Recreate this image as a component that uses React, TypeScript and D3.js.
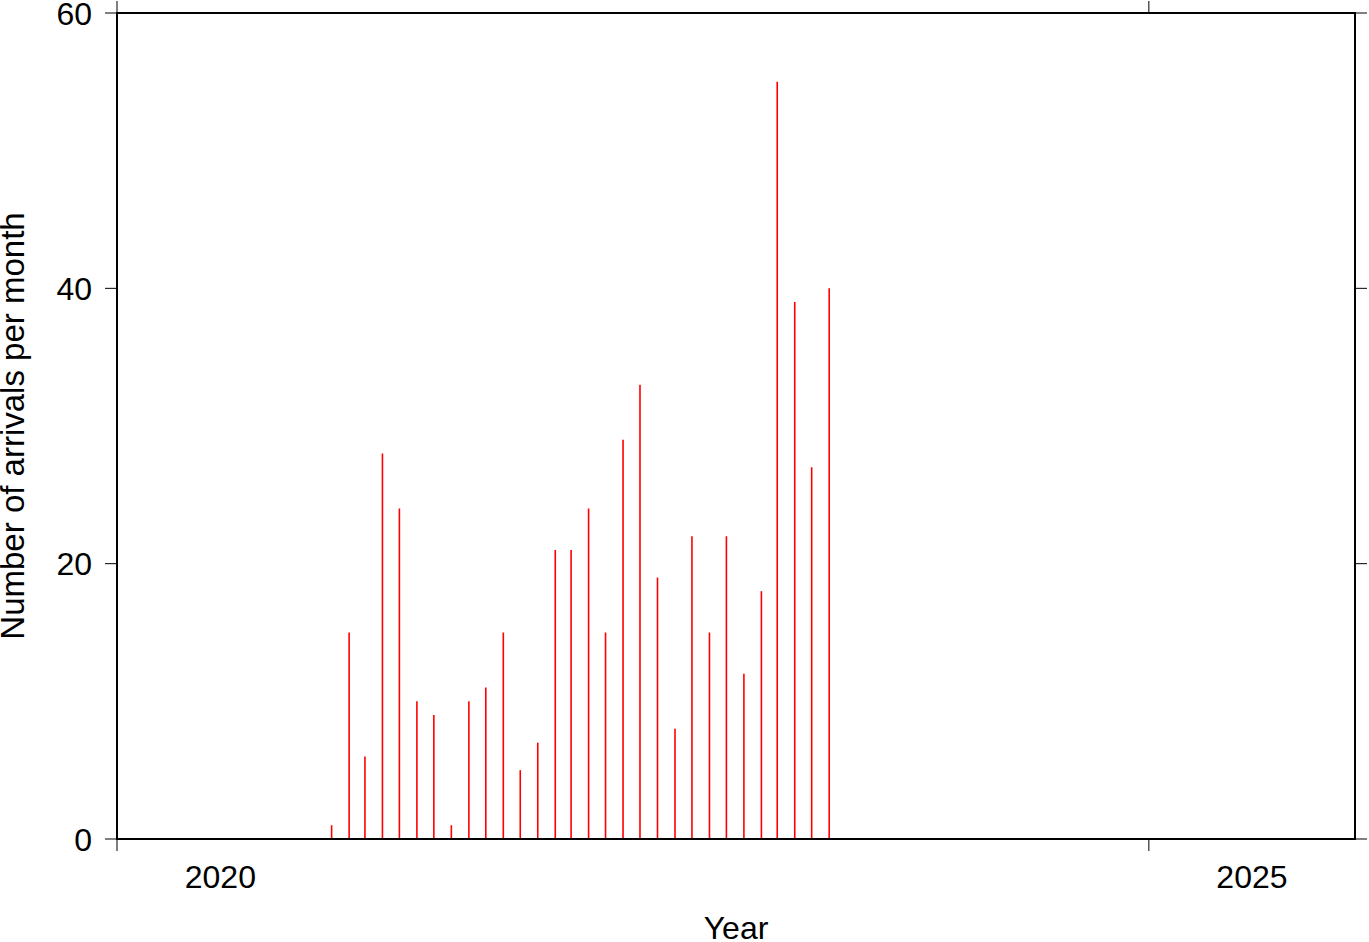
import React from "react";
import * as d3 from "d3";

const months: string[] = [
  "2021-01","2021-02","2021-03","2021-04","2021-05","2021-06","2021-07","2021-08","2021-09","2021-10","2021-11","2021-12",
  "2022-01","2022-02","2022-03","2022-04","2022-05","2022-06","2022-07","2022-08","2022-09","2022-10","2022-11","2022-12",
  "2023-01","2023-02","2023-03","2023-04","2023-05","2023-06",
];
const arrivals: number[] = [
  1, 15, 6, 28, 24, 10, 9, 1, 10, 11, 15, 5,
  7, 21, 21, 24, 15, 29, 33, 19, 8, 22, 15, 22,
  12, 18, 55, 39, 27, 40,
];
const yTicks: number[] = [0, 20, 40, 60];
const xTickYears: number[] = [2020, 2025];
const xLabelYears: number[] = [2020, 2025];

const W = 1369, H = 942;
const left = 117, right = 1355, top = 13, bottom = 839;
const FONT = "'Liberation Sans', Arial, Helvetica, sans-serif";
const FS = 32;

export default function App() {
  const x = d3.scaleUtc()
    .domain([new Date(Date.UTC(2020, 0, 1)), new Date(Date.UTC(2026, 0, 1))])
    .range([left, right]);
  const y = d3.scaleLinear().domain([0, 60]).range([bottom, top]);
  const parse = d3.utcParse("%Y-%m");
  const tickLen = 12;

  return (
    <svg width={W} height={H} style={{ position: "absolute", left: 0, top: 0, background: "#fff" }}>
      {months.map((m, i) => {
        const d = parse(m)!;
        const mid = d3.utcDay.offset(d, 14);
        const xp = x(mid);
        return (
          <line key={m} x1={xp} x2={xp} y1={y(0)} y2={y(arrivals[i])} stroke="#ff0000" strokeWidth={1.6} />
        );
      })}
      <rect x={left} y={top} width={right - left} height={bottom - top} fill="none" stroke="#000" strokeWidth={2} />
      {yTicks.map((t) => (
        <g key={t}>
          <line x1={left - tickLen} x2={left} y1={y(t)} y2={y(t)} stroke="#000" strokeWidth={1} />
          <line x1={right} x2={right + tickLen} y1={y(t)} y2={y(t)} stroke="#000" strokeWidth={1} />
          <text x={left - 25} y={y(t)} dy="0.36em" textAnchor="end" fontFamily={FONT} fontSize={FS}>{t}</text>
        </g>
      ))}
      {xTickYears.map((yr) => {
        const xp = x(new Date(Date.UTC(yr, 0, 1)));
        return (
          <g key={yr}>
            <line x1={xp} x2={xp} y1={bottom} y2={bottom + tickLen} stroke="#000" strokeWidth={1} />
            <line x1={xp} x2={xp} y1={top - tickLen} y2={top} stroke="#000" strokeWidth={1} />
          </g>
        );
      })}
      {xLabelYears.map((yr) => {
        const xm = (x(new Date(Date.UTC(yr, 0, 1))) + x(new Date(Date.UTC(yr + 1, 0, 1)))) / 2;
        return (
          <text key={yr} x={xm} y={888} textAnchor="middle" fontFamily={FONT} fontSize={FS}>{yr}</text>
        );
      })}
      <text x={(left + right) / 2} y={939} textAnchor="middle" fontFamily={FONT} fontSize={FS}>Year</text>
      <text transform={`translate(24, ${(top + bottom) / 2}) rotate(-90)`} textAnchor="middle" fontFamily={FONT} fontSize={33}>
        Number of arrivals per month
      </text>
    </svg>
  );
}
